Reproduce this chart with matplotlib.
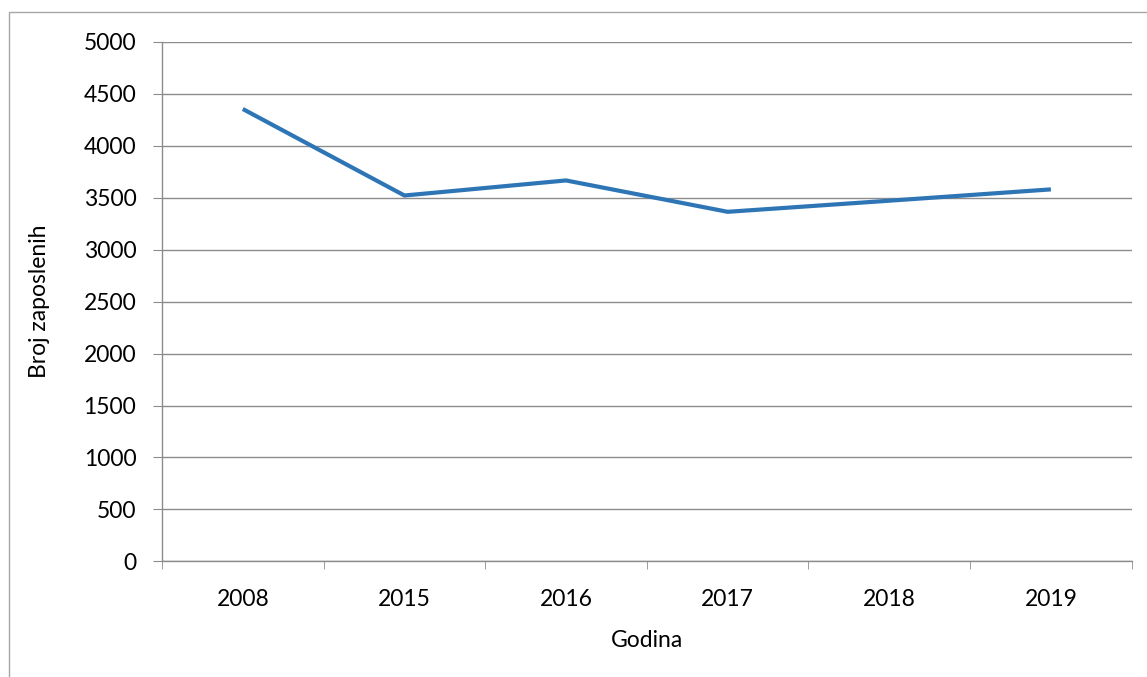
import matplotlib
matplotlib.use("Agg")
import matplotlib.pyplot as plt
from matplotlib.patches import Rectangle

years = ["2008", "2015", "2016", "2017", "2018", "2019"]
employees = [4355, 3522, 3667, 3365, 3472, 3581]
y_ticks = [0, 500, 1000, 1500, 2000, 2500, 3000, 3500, 4000, 4500, 5000]

plt.rcParams['font.family'] = ['Lato', 'DejaVu Sans']

W, H = 1147, 677
fig = plt.figure(figsize=(W / 100, H / 100), dpi=100)
ax = fig.add_axes([162 / W, 1 - 561.3 / H, (1131.7 - 162) / W, (561.3 - 42) / H])

# outer chart border
fig.patches.append(Rectangle((9 / W, -0.1), 1.2, 1 - 12 / H + 0.1, transform=fig.transFigure,
                             fill=False, edgecolor='#a6a6a6', linewidth=1.0))

x = list(range(len(years)))
ax.plot(x, employees, color='#2e75b6', linewidth=3.0, solid_capstyle='butt', solid_joinstyle='miter')

ax.set_xlim(-0.5, len(years) - 0.5)
ax.set_ylim(0, 5000)
ax.set_yticks(y_ticks)
ax.set_yticklabels([str(v) for v in y_ticks])
ax.set_xticks(x)
ax.set_xticklabels(years)
ax.set_xticks([i - 0.5 for i in range(len(years) + 1)], minor=True)

ax.yaxis.grid(True, color='#8c8c8c', linewidth=1.0)
ax.set_axisbelow(True)

for s in ['top', 'right']:
    ax.spines[s].set_visible(False)
for s in ['left', 'bottom']:
    ax.spines[s].set_color('#8c8c8c')
    ax.spines[s].set_linewidth(1.0)

FS = 16.5
ax.tick_params(axis='y', which='major', length=6.5, color='#8c8c8c', labelsize=FS, pad=12, labelcolor='black')
ax.tick_params(axis='x', which='major', length=0, labelsize=FS, pad=20, labelcolor='black')
ax.tick_params(axis='x', which='minor', length=5.8, color='#8c8c8c', direction='out')

ax.set_xlabel('Godina', fontsize=FS, labelpad=14)
ax.set_ylabel('Broj zaposlenih', fontsize=FS, labelpad=24)

fig.savefig('out.png', dpi=100)
